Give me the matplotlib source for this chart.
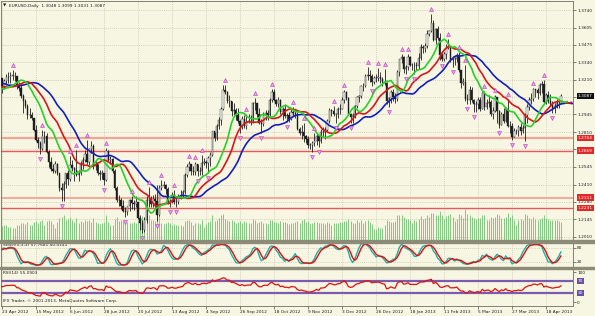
import numpy as np
import pandas as pd
import matplotlib
matplotlib.use("Agg")
import matplotlib.pyplot as plt
from matplotlib import transforms
from matplotlib.patches import Rectangle

# ---------------- data ----------------
symbol_header = "EURUSD,Daily  1.3048 1.3099 1.3031 1.3087"
stoch_header = "Stoch(5,3,3) 57.7681 40.4141"
rsi_header = "RSI(14) 55.0903"
copyright_text = "IFX Trader, \u00a9 2001-2013, MetaQuotes Software Corp."

first_date = "2012-03-12"      # warm-up bars start (not visible)
first_visible = "2012-04-23"
last_date = "2013-04-29"
holidays = ["2012-12-25", "2013-01-01"]

highs = [
 1.3170,1.3180,1.3090,1.3110,1.3190, 1.3240,1.3250,1.3280,1.3260,1.3290,
 1.3360,1.3385,1.3375,1.3335,1.3385, 1.3380,1.3350,1.3240,1.3160,1.3120,
 1.3120,1.3140,1.3140,1.3190,1.3180, 1.3160,1.3215,1.3200,1.3170,1.3230,
 1.3220,1.3215,1.3250,1.3265,1.3265, 1.3283,1.3270,1.3240,1.3190,1.3180,
 1.3100,1.3060,1.3020,1.2990,1.2960, 1.2920,1.2860,1.2770,1.2740,1.2825,
 1.2820,1.2800,1.2670,1.2620,1.2570, 1.2590,1.2575,1.2500,1.2420,1.2440,
 1.2500,1.2520,1.2625,1.2595,1.2540, 1.2670,1.2520,1.2590,1.2620,1.2670,
 1.2748,1.2690,1.2745,1.2720,1.2590, 1.2570,1.2520,1.2520,1.2500,1.2690,
 1.2670,1.2630,1.2610,1.2530,1.2400, 1.2330,1.2310,1.2295,1.2240,1.2250,
 1.2300,1.2325,1.2290,1.2325,1.2280, 1.2180,1.2140,1.2165,1.2325,1.2390,
 1.2320,1.2330,1.2340,1.2405,1.2405, 1.2443,1.2440,1.2415,1.2390,1.2300,
 1.2355,1.2370,1.2315,1.2340,1.2365, 1.2370,1.2495,1.2565,1.2588,1.2565,
 1.2550,1.2580,1.2570,1.2545,1.2635, 1.2615,1.2600,1.2625,1.2660,1.2820,
 1.2810,1.2870,1.2925,1.3000,1.3170, 1.3172,1.3120,1.3090,1.3050,1.3030,
 1.2990,1.2990,1.2900,1.2930,1.2940, 1.2950,1.2945,1.2940,1.3040,1.3071,
 1.3000,1.2990,1.2910,1.2960,1.2975, 1.2980,1.3070,1.3140,1.3135,1.3065,
 1.3080,1.3060,1.3000,1.3020,1.2955, 1.2960,1.2990,1.3000,1.2975,1.2960,
 1.2845,1.2860,1.2880,1.2790,1.2780, 1.2730,1.2745,1.2800,1.2800,1.2790,
 1.2830,1.2845,1.2845,1.2910,1.2990, 1.2985,1.3010,1.2955,1.3000,1.3020,
 1.3075,1.3127,1.3125,1.3080,1.2955, 1.2955,1.3015,1.3085,1.3090,1.3170,
 1.3180,1.3250,1.3308,1.3280,1.3250, 1.3240,1.3250,1.3300,1.3270,
 1.3230,1.3290,1.3190,1.3080, 1.3130,1.3135,1.3110,1.3285,1.3370,
 1.3404,1.3390,1.3320,1.3403,1.3390, 1.3335,1.3345,1.3345,1.3410,1.3480,
 1.3475,1.3490,1.3585,1.3590,1.3711, 1.3660,1.3605,1.3620,1.3565,1.3415,
 1.3420,1.3480,1.3520,1.3460,1.3390, 1.3380,1.3410,1.3420,1.3285,1.3220,
 1.3320,1.3100,1.3160,1.3150,1.3060, 1.3050,1.3080,1.3080,1.3114,1.3125,
 1.3060,1.3090,1.3055,1.3000,1.3090, 1.3030,1.2980,1.2965,1.2995,1.3000,
 1.3060,1.2895,1.2880,1.2840,1.2830, 1.2860,1.2875,1.2860,1.2955,1.3020,
 1.3080,1.3105,1.3145,1.3140,1.3145, 1.3180,1.3200,1.3203,1.3110,1.3120,
 1.3100,1.3050,1.3030,1.3060,1.3060, 1.3099,
]
lows = [
 1.3080,1.3050,1.3000,1.3030,1.3070, 1.3140,1.3170,1.3190,1.3150,1.3180,
 1.3260,1.3320,1.3290,1.3260,1.3300, 1.3300,1.3210,1.3110,1.3050,1.3030,
 1.3040,1.3070,1.3060,1.3100,1.3060, 1.3000,1.3120,1.3100,1.3080,1.3130,
 1.3110,1.3140,1.3165,1.3180,1.3180, 1.3210,1.3200,1.3140,1.3120,1.3070,
 1.2955,1.2990,1.2912,1.2920,1.2900, 1.2815,1.2740,1.2690,1.2640,1.2670,
 1.2730,1.2650,1.2545,1.2515,1.2495, 1.2500,1.2480,1.2360,1.2287,1.2288,
 1.2380,1.2405,1.2440,1.2510,1.2440, 1.2475,1.2440,1.2480,1.2530,1.2585,
 1.2570,1.2560,1.2650,1.2530,1.2520, 1.2480,1.2445,1.2450,1.2406,1.2440,
 1.2590,1.2570,1.2500,1.2370,1.2280, 1.2250,1.2225,1.2200,1.2163,1.2180,
 1.2210,1.2220,1.2215,1.2240,1.2150, 1.2067,1.2042,1.2045,1.2115,1.2235,
 1.2240,1.2240,1.2240,1.2133,1.2170, 1.2370,1.2380,1.2335,1.2260,1.2240,
 1.2270,1.2260,1.2240,1.2260,1.2300, 1.2305,1.2340,1.2470,1.2510,1.2480,
 1.2480,1.2480,1.2475,1.2480,1.2480, 1.2560,1.2535,1.2500,1.2550,1.2625,
 1.2740,1.2750,1.2830,1.2860,1.2980, 1.3100,1.3030,1.3000,1.2930,1.2940,
 1.2900,1.2880,1.2803,1.2830,1.2840, 1.2835,1.2875,1.2865,1.2880,1.2980,
 1.2925,1.2870,1.2803,1.2855,1.2905, 1.2905,1.2930,1.3040,1.3050,1.3005,
 1.3000,1.2950,1.2900,1.2920,1.2883, 1.2885,1.2905,1.2930,1.2915,1.2825,
 1.2785,1.2760,1.2735,1.2730,1.2690, 1.2680,1.2661,1.2700,1.2710,1.2694,
 1.2730,1.2770,1.2760,1.2820,1.2875, 1.2935,1.2930,1.2875,1.2920,1.2950,
 1.2985,1.3030,1.3055,1.2940,1.2877, 1.2880,1.2920,1.2990,1.3040,1.3070,
 1.3120,1.3150,1.3210,1.3190,1.3160, 1.3175,1.3190,1.3200,1.3180,
 1.3160,1.3170,1.3020,1.3000, 1.3030,1.3045,1.3035,1.3050,1.3240,
 1.3335,1.3260,1.3255,1.3280,1.3310, 1.3280,1.3255,1.3280,1.3290,1.3360,
 1.3410,1.3420,1.3450,1.3540,1.3575, 1.3500,1.3480,1.3510,1.3360,1.3350,
 1.3350,1.3370,1.3440,1.3340,1.3305, 1.3320,1.3340,1.3270,1.3145,1.3170,
 1.3045,1.3020,1.3020,1.3040,1.2965, 1.2965,1.2985,1.2970,1.2985,1.2980,
 1.2985,1.3000,1.2935,1.2910,1.2965, 1.2880,1.2842,1.2860,1.2880,1.2885,
 1.2845,1.2805,1.2750,1.2770,1.2795, 1.2780,1.2790,1.2800,1.2744,1.2880,
 1.2980,1.3020,1.3050,1.3080,1.3060, 1.3095,1.3110,1.3030,1.3020,1.3030,
 1.3010,1.2955,1.2955,1.2990,1.2990, 1.3031,
]
closes = [
 1.3120,1.3070,1.3055,1.3080,1.3175, 1.3235,1.3210,1.3255,1.3195,1.3275,
 1.3355,1.3370,1.3315,1.3305,1.3340, 1.3320,1.3230,1.3140,1.3070,1.3095,
 1.3105,1.3080,1.3120,1.3160,1.3075, 1.3150,1.3195,1.3115,1.3140,1.3218,
 1.3164,1.3197,1.3229,1.3226,1.3239, 1.3240,1.3236,1.3158,1.3149,1.3082,
 1.3044,1.3012,1.2938,1.2938,1.2915, 1.2829,1.2747,1.2723,1.2684,1.2778,
 1.2780,1.2656,1.2582,1.2529,1.2514, 1.2568,1.2494,1.2380,1.2367,1.2414,
 1.2497,1.2452,1.2562,1.2535,1.2517, 1.2479,1.2500,1.2558,1.2600,1.2640,
 1.2578,1.2677,1.2703,1.2553,1.2570, 1.2500,1.2490,1.2497,1.2442,1.2667,
 1.2593,1.2607,1.2514,1.2387,1.2289, 1.2292,1.2247,1.2208,1.2197,1.2245,
 1.2292,1.2267,1.2262,1.2280,1.2156, 1.2119,1.2062,1.2143,1.2290,1.2294,
 1.2263,1.2303,1.2283,1.2180,1.2387, 1.2402,1.2407,1.2373,1.2278,1.2288,
 1.2328,1.2278,1.2280,1.2314,1.2333, 1.2350,1.2481,1.2546,1.2563,1.2516,
 1.2502,1.2565,1.2512,1.2515,1.2577, 1.2584,1.2571,1.2610,1.2634,1.2816,
 1.2766,1.2857,1.2900,1.2988,1.3130, 1.3113,1.3049,1.3049,1.2970,1.2976,
 1.2936,1.2896,1.2855,1.2910,1.2859, 1.2889,1.2897,1.2895,1.3030,1.3035,
 1.2950,1.2879,1.2872,1.2938,1.2952, 1.2942,1.3054,1.3115,1.3055,1.3020,
 1.3055,1.2960,1.2989,1.2934,1.2940, 1.2911,1.2964,1.2958,1.2942,1.2836,
 1.2800,1.2810,1.2776,1.2754,1.2712, 1.2712,1.2725,1.2745,1.2783,1.2741,
 1.2812,1.2812,1.2829,1.2896,1.2980, 1.2971,1.2944,1.2944,1.2982,1.2987,
 1.3051,1.3118,1.3068,1.2950,1.2921, 1.2938,1.3008,1.3075,1.3081,1.3163,
 1.3162,1.3240,1.3241,1.3240,1.3191, 1.3219,1.3220,1.3232,1.3217,
 1.3193,1.3186,1.3048,1.3067, 1.3113,1.3080,1.3065,1.3268,1.3365,
 1.3380,1.3290,1.3305,1.3382,1.3320, 1.3318,1.3320,1.3316,1.3372,1.3457,
 1.3451,1.3469,1.3555,1.3579,1.3644, 1.3510,1.3593,1.3526,1.3400,1.3366,
 1.3407,1.3454,1.3457,1.3362,1.3363, 1.3365,1.3396,1.3280,1.3185,1.3191,
 1.3059,1.3056,1.3133,1.3053,1.3020, 1.3022,1.3052,1.2988,1.3108,1.3004,
 1.3032,1.3041,1.2950,1.2974,1.3075, 1.2967,1.2867,1.2949,1.2897,1.2989,
 1.2855,1.2855,1.2775,1.2816,1.2820, 1.2846,1.2816,1.2839,1.2943,1.3004,
 1.3053,1.3063,1.3140,1.3133,1.3106, 1.3170,1.3179,1.3040,1.3090,1.3045,
 1.3025,1.2990,1.3012,1.3029,1.3030, 1.3087,
]
# tick volume (thousands) of the visible bars, Apr 23 2012 .. Apr 29 2013
volumes = [
 66,72,70,64,62, 58,60,74,70,82, 84,76,86,72,70, 88,92,84,90,96,
 74,90,96,92,78, 56,88,104,112,118, 96,100,110,94,88, 108,84,90,86,98,
 92,96,88,104,86, 80,78,84,86,118, 86,72,70,100,112, 90,94,92,96,88,
 82,84,86,80,98, 102,116,112,120,118, 96,94,92,122,120, 84,76,80,88,82,
 70,76,72,74,70, 68,90,96,94,86, 70,80,84,78,96, 64,76,88,92,118,
 90,96,104,122,124, 100,96,92,96,90, 82,86,92,84,90, 88,80,82,100,94,
 84,86,90,84,80, 78,96,98,88,86, 80,90,86,88,80, 76,84,82,88,90,
 82,96,102,86,90, 78,84,88,86,84, 80,82,78,86,84, 74,80,84,82,88,
 86,92,90,100,92, 82,84,94,86,96, 84,92,96,88,78, 52,54,62,60,
 58,70,98,92, 88,86,90,122,120, 118,110,100,102,96, 84,94,92,100,116,
 100,104,122,112,132, 128,120,118,140,120, 100,114,118,126,112, 92,100,124,120,106,
 150,126,118,112,106, 100,106,104,120,118, 96,98,110,104,112, 124,118,104,108,112,
 128,112,120,96,70, 94,100,98,124,118, 104,102,110,100,98, 100,104,120,108,100,
 98,96,94,96,92, 88,
]

price_grid = [1.2010, 1.2145, 1.2280, 1.2410, 1.2545, 1.2680, 1.2810, 1.2945,
              1.3075, 1.3210, 1.3340, 1.3475, 1.3605, 1.3740]
hidden_grid_labels = [1.2680, 1.3075]
level_lines = [1.2764, 1.2669, 1.2311, 1.2231]
level_colors = ['#F2A595', '#E8585A', '#F2A595', '#E8585A']
level_widths = [1.6, 1.0, 1.3, 1.0]
current_price = 1.3087
date_label_step = 16
stoch_levels = [20, 80]
rsi_levels = [30, 70]

# ---------------- computations ----------------
H = np.array(highs); L = np.array(lows); C = np.array(closes)
n = min(len(H), len(L), len(C))
H, L, C = H[:n], L[:n], C[:n]
O = np.r_[C[0], C[:-1]]

all_days = pd.bdate_range(first_date, last_date)
all_days = all_days[~all_days.isin(pd.to_datetime(holidays))][:n]
off = int(np.where(all_days == pd.Timestamp(first_visible))[0][0])
x = np.arange(n) - off

def smma(v, p):
    out = np.full(len(v), np.nan)
    out[p - 1] = v[:p].mean()
    for k in range(p, len(v)):
        out[k] = (out[k - 1] * (p - 1) + v[k]) / p
    return out

med = (H + L) / 2
jaw, teeth, lips = smma(med, 13), smma(med, 8), smma(med, 5)

s_h = pd.Series(H); s_l = pd.Series(L); s_c = pd.Series(C)
ll = s_l.rolling(5).min(); hh = s_h.rolling(5).max()
k_line = 100 * (s_c - ll).rolling(3).sum() / (hh - ll).rolling(3).sum()
d_line = k_line.rolling(3).mean()

delta = np.diff(C, prepend=C[0])
up = np.clip(delta, 0, None); dn = np.clip(-delta, 0, None)
au = np.full(n, np.nan); ad = np.full(n, np.nan)
au[14] = up[1:15].mean(); ad[14] = dn[1:15].mean()
for k in range(15, n):
    au[k] = (au[k - 1] * 13 + up[k]) / 14
    ad[k] = (ad[k - 1] * 13 + dn[k]) / 14
rsi = 100 - 100 / (1 + au / ad)

frac_up = [k for k in range(2, n - 2) if H[k] > H[k-1] and H[k] > H[k-2] and H[k] >= H[k+1] and H[k] >= H[k+2]]
frac_dn = [k for k in range(2, n - 2) if L[k] < L[k-1] and L[k] < L[k-2] and L[k] <= L[k+1] and L[k] <= L[k+2]]

# ---------------- figure ----------------
FW, FH = 595, 316
BG = '#F7F6E3'
GRID = '#C9C8B4'
plt.rcParams['font.family'] = ['DejaVu Sans']
FS = 3.1
fig = plt.figure(figsize=(FW / 100, FH / 100), dpi=100)
fig.patch.set_facecolor(BG)

def box(x0, y0, x1, y1):
    return [x0 / FW, 1 - y1 / FH, (x1 - x0) / FW, (y1 - y0) / FH]

ax = fig.add_axes(box(1, 1, 573, 240))
axs = fig.add_axes(box(1, 243, 573, 266.5))
axr = fig.add_axes(box(1, 268.5, 573, 306))

xl = (-0.47, 268.7)
for a in (ax, axs, axr):
    a.set_facecolor(BG)
    a.set_xlim(*xl)
    for sp in a.spines.values():
        sp.set_color('#6e6e64'); sp.set_linewidth(0.6)
    a.tick_params(axis='both', labelsize=FS, length=2, width=0.4, pad=1,
                  colors='#202020')
    a.yaxis.tick_right()

label_idx = np.arange(0, x.max() + 1, date_label_step)
label_txt = [f"{all_days[i + off].day} {all_days[i + off].strftime('%b %Y')}" for i in label_idx]
for a in (ax, axs, axr):
    a.set_xticks(label_idx)
    for xi in label_idx:
        a.axvline(xi, color=GRID, lw=0.5, ls=(0, (1.5, 1.5)), zorder=0)
ax.set_xticklabels([]); axs.set_xticklabels([])
ax.tick_params(axis='x', length=0); axs.tick_params(axis='x', length=0)
axr.set_xticklabels(label_txt, ha='left')

# main panel
ax.set_ylim(1.19871, 1.38086)
ax.set_yticks(price_grid)
ax.set_yticklabels(['' if v in hidden_grid_labels else f"{v:.4f}" for v in price_grid])
for v in price_grid:
    ax.axhline(v, color=GRID, lw=0.5, ls=(0, (1.5, 1.5)), zorder=0)

vis = (x >= -1) & (x <= 270)
vx = np.arange(len(volumes))
vtrans = transforms.blended_transform_factory(ax.transData, ax.transAxes)
ax.vlines(vx, 0, np.array(volumes) / 1150.0, transform=vtrans, color='#7CC47C', lw=0.65, zorder=1)

for i, (yv, cc, lw) in enumerate(zip(level_lines, level_colors, level_widths)):
    ax.axhline(yv, color=cc, lw=lw, zorder=2)

ax.vlines(x[vis], L[vis], H[vis], color='#1e1e1e', lw=0.6, zorder=4)
bull = vis & (C >= O); bear = vis & (C < O)
ax.bar(x[bull], np.maximum(C - O, 0.0002)[bull], bottom=O[bull], width=0.6,
       color='white', edgecolor='#1e1e1e', linewidth=0.3, zorder=5)
ax.bar(x[bear], (O - C)[bear], bottom=C[bear], width=0.6,
       color='#1e1e1e', edgecolor='#1e1e1e', linewidth=0.3, zorder=5)

ax.plot(x + 8, jaw, color='#1420B8', lw=1.2, zorder=6)
ax.plot(x + 5, teeth, color='#D81818', lw=1.2, zorder=6)
ax.plot(x + 3, lips, color='#28D028', lw=1.2, zorder=6)

t_up = transforms.offset_copy(ax.transData, fig=fig, y=5, units='dots')
t_dn = transforms.offset_copy(ax.transData, fig=fig, y=-5, units='dots')
fu = [k for k in frac_up if x[k] >= 0]
fd = [k for k in frac_dn if x[k] >= 0]
ax.scatter(x[fu], H[fu], marker='^', s=8, facecolor='#EFA0EE', edgecolor='#B33FB8',
           linewidth=0.4, transform=t_up, zorder=7, clip_on=False)
ax.scatter(x[fd], L[fd], marker='v', s=8, facecolor='#EFA0EE', edgecolor='#B33FB8',
           linewidth=0.4, transform=t_dn, zorder=7, clip_on=False)

rt = transforms.blended_transform_factory(ax.transAxes, ax.transData)
for yv in level_lines:
    ax.text(1.0085, yv, f"{yv:.4f}", transform=rt, fontsize=FS, color='white',
            va='center', ha='left', zorder=10,
            bbox=dict(boxstyle='square,pad=0.25', fc='#E02828', ec='none'))
ax.text(1.0085, current_price, f"{current_price:.4f}", transform=rt, fontsize=FS,
        color='white', va='center', ha='left', zorder=10,
        bbox=dict(boxstyle='square,pad=0.25', fc='#101010', ec='none'))

# stochastic panel
axs.set_ylim(0, 100)
axs.set_yticks([20, 80]); axs.set_yticklabels(['20', '80'])
for lv in stoch_levels:
    axs.axhline(lv, color=GRID, lw=0.5, ls=(0, (1.5, 1.5)), zorder=0)
axs.plot(x[vis], k_line.values[vis], color='#20B2AA', lw=1.0)
axs.plot(x[vis], d_line.values[vis], color='#E01010', lw=1.0)

# RSI panel
axr.set_ylim(-12, 112)
axr.set_yticks([0, 100]); axr.set_yticklabels(['0', '100'])
rt2 = transforms.blended_transform_factory(axr.transAxes, axr.transData)
for lv in rsi_levels:
    axr.axhline(lv, color='#7B5BAF', lw=1.6, zorder=2)
    axr.text(1.0085, lv, f"{lv}", transform=rt2, fontsize=FS, color='white',
             va='center', ha='left',
             bbox=dict(boxstyle='square,pad=0.25', fc='#6A4FA8', ec='none'))
axr.plot(x[vis], rsi[vis], color='#E01010', lw=0.9, zorder=3)

# separators between sub-windows
for y0, y1 in [(240, 243), (266.5, 268.5)]:
    fig.add_artist(Rectangle((0, 1 - y1 / FH), 1, (y1 - y0) / FH,
                             transform=fig.transFigure, color='#8C8B78', zorder=20))

def ftext(px, py, s, **kw):
    fig.text(px / FW, 1 - py / FH, s, fontsize=FS, va='center', ha='left',
             color='#202020', **kw)

ftext(3, 5.5, "\u25BC")
ftext(9, 5.5, symbol_header)
ftext(3, 245.5, stoch_header)
ftext(3, 272.5, rsi_header)
ftext(3, 301, copyright_text)

fig.savefig("out.png", dpi=100, facecolor=BG)
